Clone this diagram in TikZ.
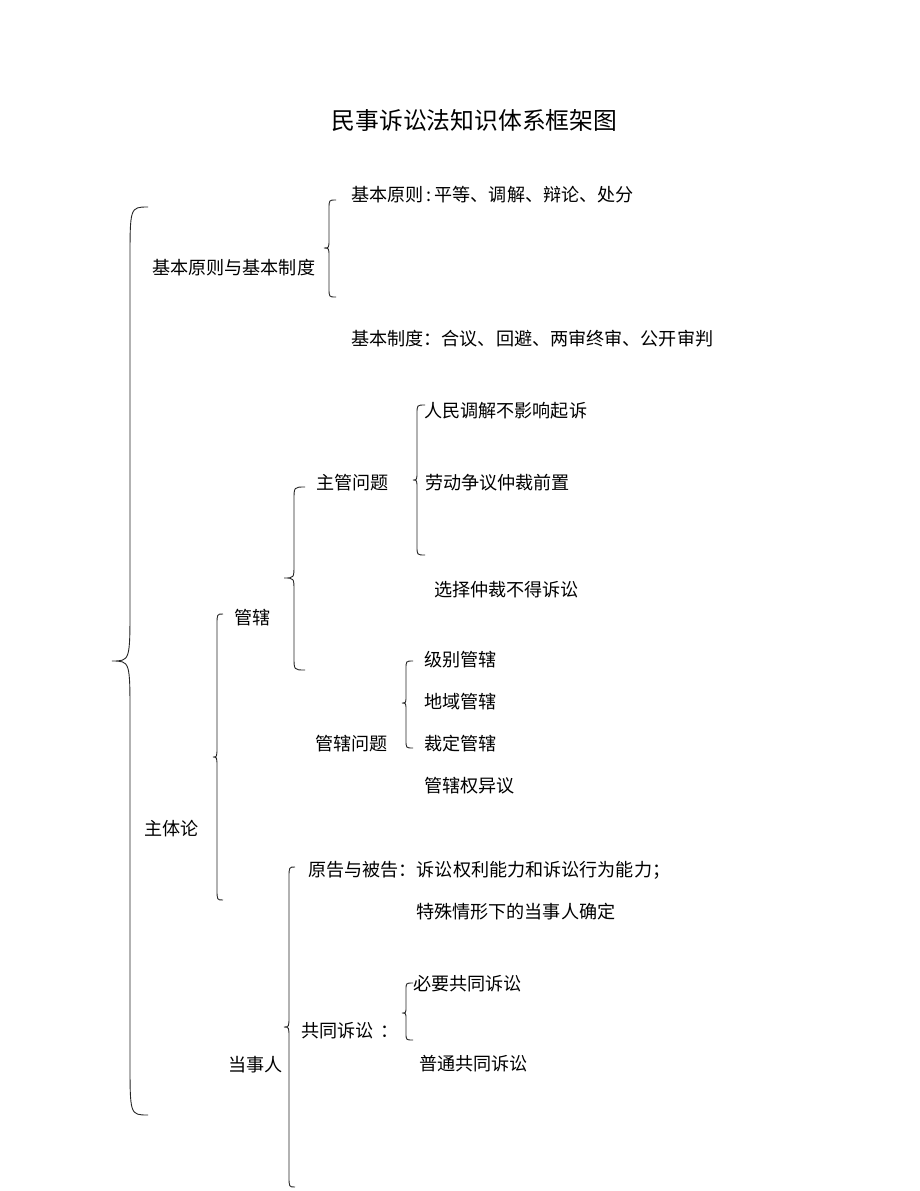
\documentclass[tikz,border=0pt]{standalone}
\usepackage{fontspec}
\newfontfamily\cjk{Noto Sans CJK SC}
\newcommand{\mybrace}[7]{%
  % #1 end x, #2 vertical x, #3 tip x, #4 top y, #5 tip y, #6 bottom y, #7 curl
  \draw[bracestyle] (#1,#4) .. controls (#2,#4) .. (#2,{#4+#7})
    -- (#2,{#5-#7}) .. controls (#2,#5) .. (#3,#5)
    .. controls (#2,#5) .. (#2,{#5+#7})
    -- (#2,{#6-#7}) .. controls (#2,#6) .. (#1,#6);}
\begin{document}
\begin{tikzpicture}[x=1pt,y=-1pt,
  bracestyle/.style={line width=0.9pt,black!85},
  lbl/.style={anchor=west,inner sep=0pt,font=\cjk\fontsize{18.1}{21}\selectfont,text=black},
  ttl/.style={inner sep=0pt,font=\cjk\fontsize{23.8}{26}\selectfont,text=black}]
\useasboundingbox (0,0) rectangle (920,1191);
\fill[white] (0,0) rectangle (920,1191);

\node[ttl] (title) at (474.5,120) {民事诉讼法知识体系框架图};

% braces
\mybrace{148}{130}{112}{207}{661}{1115}{55}
\mybrace{336}{329}{324}{200}{248}{297}{9}
\mybrace{223}{217}{213}{614}{757}{900}{11}
\mybrace{305}{294}{284}{487}{578}{670}{13}
\mybrace{425}{417}{413}{405}{480}{555}{9}
\mybrace{413}{406}{402}{661}{703}{748}{8}
\mybrace{295}{289}{284}{867}{1027}{1187}{11}
\mybrace{413}{406}{402}{983}{1013}{1040}{7}

% labels
\node[lbl] (jbyz) at (351,195) {基本原则\,:\,平等、调解、辩论、处分};
\node[lbl] (jbzd0) at (152,268) {基本原则与基本制度};
\node[lbl] (jbzd) at (351,339) {基本制度：合议、回避、两审终审、公开审判};
\node[lbl] (rmtj) at (424,411) {人民调解不影响起诉};
\node[lbl] (zgwt) at (316,483) {主管问题};
\node[lbl] (ldzy) at (425,483) {劳动争议仲裁前置};
\node[lbl] (xzzc) at (434,590) {选择仲裁不得诉讼};
\node[lbl] (gx) at (234,618) {管辖};
\node[lbl] (jbgx) at (424,660) {级别管辖};
\node[lbl] (dygx) at (424,702) {地域管辖};
\node[lbl] (gxwt) at (315,744) {管辖问题};
\node[lbl] (cdgx) at (424,744) {裁定管辖};
\node[lbl] (gxqyy) at (424,786) {管辖权异议};
\node[lbl] (ztl) at (144,829) {主体论};
\node[lbl] (ygbg) at (308,870) {原告与被告：诉讼权利能力和诉讼行为能力；};
\node[lbl] (tsqx) at (416,912) {特殊情形下的当事人确定};
\node[lbl] (byss) at (413,984) {必要共同诉讼};
\node[lbl] (gtss) at (301,1031) {共同诉讼\hspace{7pt}：};
\node[lbl] (ptss) at (419,1064) {普通共同诉讼};
\node[lbl] (dsr) at (228,1065) {当事人};
\end{tikzpicture}
\end{document}
